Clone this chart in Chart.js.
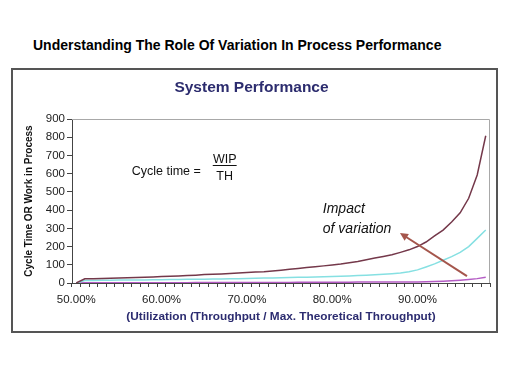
<!DOCTYPE html>
<html>
<head>
<meta charset="utf-8">
<script src="https://cdn.jsdelivr.net/npm/chart.js@4.4.1/dist/chart.umd.min.js"></script>
<style>
  html, body { margin: 0; padding: 0; background: #fff; }
  body { width: 509px; height: 382px; position: relative; overflow: hidden; font-family: "Liberation Sans", Arial, sans-serif; }
  #pageTitle { position: absolute; left: 33px; top: 37.6px; font-size: 14px; line-height: 15px; font-weight: bold; color: #000; white-space: nowrap; }
  #frame { position: absolute; left: 11px; top: 68px; width: 487px; height: 265px; box-sizing: border-box; border: 2px solid #555; }
  #wrap { position: absolute; left: 13px; top: 70px; width: 483px; height: 261px; }
</style>
</head>
<body>
<div id="pageTitle">Understanding The Role Of Variation In Process Performance</div>
<div id="frame"></div>
<div id="wrap"><canvas id="c" width="483" height="261"></canvas></div>
<script>
const categories = ["50.00%","51.00%","52.00%","53.00%","54.00%","55.00%","56.00%","57.00%","58.00%","59.00%",
  "60.00%","61.00%","62.00%","63.00%","64.00%","65.00%","66.00%","67.00%","68.00%","69.00%",
  "70.00%","71.00%","72.00%","73.00%","74.00%","75.00%","76.00%","77.00%","78.00%","79.00%",
  "80.00%","81.00%","82.00%","83.00%","84.00%","85.00%","86.00%","87.00%","88.00%","89.00%",
  "90.00%","91.00%","92.00%","93.00%","94.00%","95.00%","96.00%","97.00%","98.00%"];
const highVariation = [0,23,24,25,26,28,29,30,32,33, 35,37,39,41,43,46,48,50,52,55, 57,60,62,66,70,75,80,85,89,94, 99,104,111,118,127,137,146,155,168,182, 200,225,258,290,335,385,465,593,808];
const mediumVariation = [0,14,14,15,15,16,16,17,17,18, 18,19,19,20,20,21,22,22,23,24, 25,26,27,28,29,30,31,32,33,34, 35,37,39,41,43,45,48,51,55,62, 72,88,105,125,145,168,200,245,291];
const lowVariation = [0,2,2,2,2,2,2,2,2,2, 2,2,2,2,3,3,3,3,3,3, 3,3,3,3,3,3,4,4,4,4, 4,4,4,5,5,5,5,5,6,6, 6,7,8,10,12,15,19,24,31];
const yTicks = [0,100,200,300,400,500,600,700,800,900];

const FONT = "'Liberation Sans', Arial, sans-serif";

const plotFrame = {
  id: 'plotFrame',
  beforeDatasetsDraw(chart) {
    const { ctx, chartArea: a } = chart;
    ctx.save();
    ctx.strokeStyle = '#a8a8a8';
    ctx.lineWidth = 1;
    ctx.beginPath();
    ctx.moveTo(a.left, a.top + 0.5);
    ctx.lineTo(a.right - 0.5, a.top + 0.5);
    ctx.lineTo(a.right - 0.5, a.bottom);
    ctx.stroke();
    ctx.restore();
  }
};

const annotations = {
  id: 'annotations',
  afterDatasetsDraw(chart) {
    const { ctx, scales: { x, y } } = chart;
    ctx.save();
    ctx.fillStyle = '#111';
    ctx.textBaseline = 'alphabetic';
    ctx.font = "12.5px " + FONT;
    ctx.textAlign = 'left';
    ctx.fillText('Cycle time =', x.getPixelForValue(6.5), y.getPixelForValue(593));
    ctx.textAlign = 'center';
    const fx = x.getPixelForValue(17.4);
    ctx.fillText('WIP', fx, y.getPixelForValue(657));
    ctx.fillText('TH', fx, y.getPixelForValue(565));
    ctx.strokeStyle = '#111';
    ctx.lineWidth = 1;
    ctx.beginPath();
    const ly = Math.round(y.getPixelForValue(645)) + 0.5;
    ctx.moveTo(x.getPixelForValue(16.0), ly);
    ctx.lineTo(x.getPixelForValue(18.8), ly);
    ctx.stroke();
    ctx.font = "italic 14px " + FONT;
    ctx.textAlign = 'left';
    ctx.fillText('Impact', x.getPixelForValue(28.9), y.getPixelForValue(384));
    ctx.fillText('of variation', x.getPixelForValue(28.9), y.getPixelForValue(273));
    const x1 = x.getPixelForValue(45.8), y1 = y.getPixelForValue(38);
    const x2 = x.getPixelForValue(37.95), y2 = y.getPixelForValue(274);
    const ang = Math.atan2(y2 - y1, x2 - x1);
    const col = '#a5564c';
    ctx.strokeStyle = col;
    ctx.fillStyle = col;
    ctx.lineWidth = 2;
    ctx.beginPath();
    ctx.moveTo(x1, y1);
    ctx.lineTo(x2 - 5 * Math.cos(ang), y2 - 5 * Math.sin(ang));
    ctx.stroke();
    ctx.beginPath();
    ctx.moveTo(x2, y2);
    ctx.lineTo(x2 - 8 * Math.cos(ang) + 4 * Math.sin(ang), y2 - 8 * Math.sin(ang) - 4 * Math.cos(ang));
    ctx.lineTo(x2 - 8 * Math.cos(ang) - 4 * Math.sin(ang), y2 - 8 * Math.sin(ang) + 4 * Math.cos(ang));
    ctx.closePath();
    ctx.fill();
    ctx.restore();
  }
};

new Chart(document.getElementById('c'), {
  type: 'line',
  data: {
    labels: categories,
    datasets: [
      { label: 'High variation', data: highVariation, borderColor: '#74384a', borderWidth: 1.5, pointRadius: 0, tension: 0, fill: false },
      { label: 'Medium variation', data: mediumVariation, borderColor: '#86e0e2', borderWidth: 1.5, pointRadius: 0, tension: 0, fill: false },
      { label: 'Low variation', data: lowVariation, borderColor: '#b45cc4', borderWidth: 1.5, pointRadius: 0, tension: 0, fill: false }
    ]
  },
  options: {
    responsive: false,
    animation: false,
    devicePixelRatio: 1,
    layout: { padding: { left: 0, right: 6, top: 0, bottom: 0 } },
    plugins: {
      legend: { display: false },
      tooltip: { enabled: false },
      title: {
        display: true,
        text: 'System Performance',
        color: '#2c2c6e',
        font: { family: FONT, size: 15.5, weight: 'bold' },
        padding: { top: 8.2, bottom: 22.2 }
      }
    },
    scales: {
      x: {
        type: 'category',
        offset: true,
        grid: { offset: true, drawOnChartArea: false, drawTicks: true, tickLength: 4, color: '#444' },
        border: { display: true, color: '#444', width: 1 },
        ticks: {
          autoSkip: false,
          maxRotation: 0,
          padding: 6,
          color: '#222',
          font: { family: FONT, size: 11.5 },
          callback: function(v, i) { return i % 10 === 0 ? categories[i] : ''; }
        },
        title: {
          display: true,
          text: '(Utilization (Throughput / Max. Theoretical Throughput)',
          color: '#2c2c70',
          font: { family: FONT, size: 11.8, weight: 'bold' },
          padding: { top: 2, bottom: 7 }
        },
        afterFit: function(s) { s.height = 48; }
      },
      y: {
        min: 0,
        max: 900,
        afterBuildTicks: function(s) { s.ticks = yTicks.map(v => ({ value: v })); },
        grid: { drawOnChartArea: false, drawTicks: true, tickLength: 5, color: '#444' },
        border: { display: true, color: '#444', width: 1 },
        ticks: {
          padding: 2,
          color: '#222',
          font: { family: FONT, size: 11.5 }
        },
        title: {
          display: true,
          text: 'Cycle Time OR Work in Process',
          color: '#111',
          font: { family: FONT, size: 10, weight: 'bold' },
          padding: { top: 10, bottom: 2 }
        },
        afterFit: function(s) { s.width = 59; }
      }
    }
  },
  plugins: [plotFrame, annotations]
});
</script>
</body>
</html>
